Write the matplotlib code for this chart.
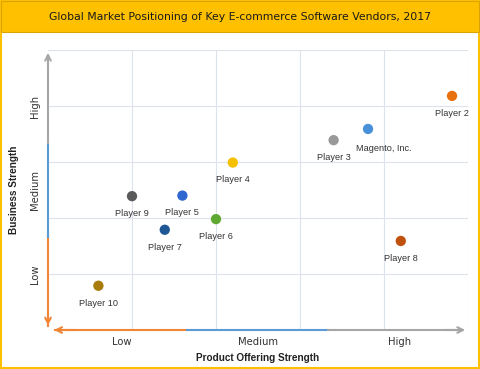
import matplotlib
matplotlib.use('Agg')
import matplotlib.pyplot as plt
from matplotlib.patches import Rectangle

# vendor positions (product offering strength, business strength), 0-5 scale
vendors = ['Player 2', 'Magento, Inc.', 'Player 3', 'Player 4', 'Player 5',
           'Player 6', 'Player 7', 'Player 8', 'Player 9', 'Player 10']
product_strength = [4.81, 3.81, 3.40, 2.20, 1.60, 2.00, 1.39, 4.20, 1.00, 0.60]
business_strength = [4.18, 3.59, 3.39, 2.99, 2.40, 1.98, 1.79, 1.59, 2.39, 0.79]
colors = ['#E8700E', '#4A90D9', '#999999', '#F5C000', '#2E67CF',
          '#5FA832', '#1E5796', '#C0500E', '#5A5A5A', '#A87B0A']

x_levels = ['Low', 'Medium', 'High']
x_level_pos = [0.88, 2.50, 4.19]
y_levels = ['Low', 'Medium', 'High']
y_level_pos = [1.0, 2.5, 4.0]

ORANGE = '#F08636'
BLUE = '#5B9BD5'
GRAY = '#A6A6A6'

fig = plt.figure(figsize=(4.8, 3.69), dpi=100)

# border and title band
fig.patches.append(Rectangle((0.002, 0.002), 0.996, 0.996, transform=fig.transFigure,
                             fill=False, edgecolor='#FFC000', linewidth=1.5))
fig.patches.append(Rectangle((0.002, 0.912), 0.996, 0.084, transform=fig.transFigure,
                             facecolor='#FFC000', edgecolor='#D9A400', linewidth=0.8))
fig.text(0.5, 0.953, 'Global Market Positioning of Key E-commerce Software Vendors, 2017',
         ha='center', va='center', fontsize=7.8, color='#1A1A1A')

ax = fig.add_axes([0.1, 0.1057, 0.875, 0.7588])
ax.set_xlim(0, 5)
ax.set_ylim(0, 5)
for s in ax.spines.values():
    s.set_visible(False)
ax.set_xticks([])
ax.set_yticks([])

# grid
for v in range(1, 6):
    ax.axvline(v, color='#DCE3EC', linewidth=0.8, zorder=0)
    ax.axhline(v, color='#DCE3EC', linewidth=0.8, zorder=0)

# coloured axis arrows
ax.plot([0, 0], [0.08, 1.66], color=ORANGE, lw=1.5, clip_on=False)
ax.plot([0, 0], [1.66, 3.34], color=BLUE, lw=1.5, clip_on=False)
ax.plot([0, 0], [3.34, 4.9], color=GRAY, lw=1.5, clip_on=False)
ax.annotate('', xy=(0, 5.0), xytext=(0, 4.7),
            arrowprops=dict(arrowstyle='->', color=GRAY, lw=1.5), annotation_clip=False)
ax.annotate('', xy=(0, 0.03), xytext=(0, 0.35),
            arrowprops=dict(arrowstyle='->', color=ORANGE, lw=1.5), annotation_clip=False)

ax.plot([0.08, 1.66], [0, 0], color=ORANGE, lw=1.5, clip_on=False)
ax.plot([1.66, 3.33], [0, 0], color=BLUE, lw=1.5, clip_on=False)
ax.plot([3.33, 4.9], [0, 0], color=GRAY, lw=1.5, clip_on=False)
ax.annotate('', xy=(0.04, 0), xytext=(0.35, 0),
            arrowprops=dict(arrowstyle='->', color=ORANGE, lw=1.5), annotation_clip=False)
ax.annotate('', xy=(5.0, 0), xytext=(4.7, 0),
            arrowprops=dict(arrowstyle='->', color=GRAY, lw=1.5), annotation_clip=False)

# vendors
ax.scatter(product_strength, business_strength, s=55, c=colors, zorder=3,
           edgecolors='none', clip_on=False)
for name, x, y in zip(vendors, product_strength, business_strength):
    if name.startswith('Magento'):
        ax.annotate(name, (x, y), xytext=(-9, -14), textcoords='offset points',
                    ha='left', va='center', fontsize=6.6, color='#333333',
                    family='Liberation Sans')
    else:
        ax.annotate(name, (x, y), xytext=(0, -12.5), textcoords='offset points',
                    ha='center', va='center', fontsize=6.6, color='#333333',
                    family='Liberation Sans')

# level labels
for lab, p in zip(x_levels, x_level_pos):
    ax.text(p, -0.22, lab, ha='center', va='center', fontsize=7.2, color='#333333')
for lab, p in zip(y_levels, y_level_pos):
    ax.text(-0.1, p, lab, ha='right', va='center', rotation=90, fontsize=7.2, color='#333333')

ax.text(2.5, -0.5, 'Product Offering Strength', ha='center', va='center',
        fontsize=7.2, fontweight='bold', color='#222222', family='Liberation Sans')
ax.text(-0.4, 2.5, 'Business Strength', ha='center', va='center', rotation=90,
        fontsize=7.2, fontweight='bold', color='#222222', family='Liberation Sans')

fig.savefig('out.png', dpi=100)
